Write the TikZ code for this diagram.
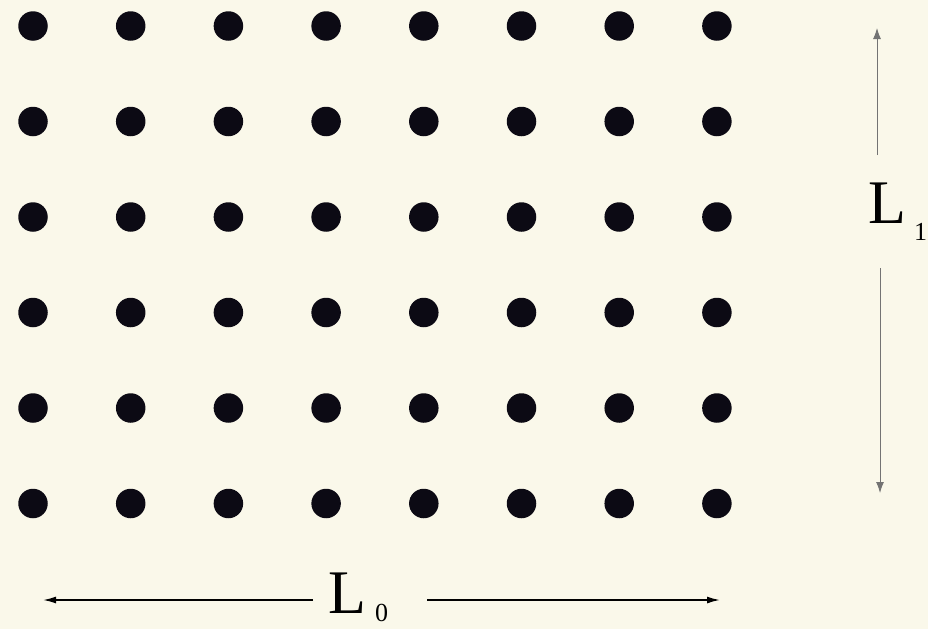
\documentclass[tikz,border=0pt]{standalone}
\usepackage{fontspec}
\setmainfont{Liberation Serif}
\usetikzlibrary{arrows.meta}
\usetikzlibrary{positioning}

\definecolor{paper}{RGB}{250,248,234}
\definecolor{ink}{RGB}{12,10,20}

\tikzset{
  dot/.style={circle, fill=ink, inner sep=0pt, minimum size=29.5pt},
  lbl/.style={inner sep=0pt, font=\fontsize{62}{62}\selectfont},
  dimv/.style={draw=black!55, line width=0.9pt, -{Latex[length=11pt,width=8pt]}},
  dimh/.style={draw=black, line width=1.6pt, -{Latex[length=13pt,width=7pt]}}
}
\newcommand*{\subfont}{\fontsize{26}{26}\selectfont}

\begin{document}
\begin{tikzpicture}[x=1pt,y=-1pt]
\newcommand*{\cols}{8}
\newcommand*{\rows}{6}
\fill[paper] (0,0) rectangle (928,629);
\clip (0,0) rectangle (928,629);

% lattice of points
\foreach \x in {1,...,\cols}
  \foreach \y in {1,...,\rows}
  {
    \node[dot] (p\x-\y) at ({33 + 97.7*(\x-1)}, {26 + 95.5*(\y-1)}) {};
  }

% vertical extent
\node[lbl, anchor=base west] (L1) at (868,223) {L\hspace{8pt}\raisebox{-17pt}{\subfont 1}};
\coordinate (v1a) at (877,155);
\coordinate (v1b) at (877,28);
\coordinate (v2a) at (880,268);
\coordinate (v2b) at (880,493);
\draw[dimv] (v1a) -- (v1b);
\draw[dimv] (v2a) -- (v2b);

% horizontal extent
\node[lbl, anchor=base west] (L0) at (328,613) {L\hspace{9pt}\raisebox{-8pt}{\subfont 0}};
\coordinate (h1a) at (313,600);
\coordinate (h1b) at (43,600);
\coordinate (h2a) at (427,600);
\coordinate (h2b) at (720,600);
\draw[dimh] (h1a) -- (h1b);
\draw[dimh] (h2a) -- (h2b);
\end{tikzpicture}
\end{document}
